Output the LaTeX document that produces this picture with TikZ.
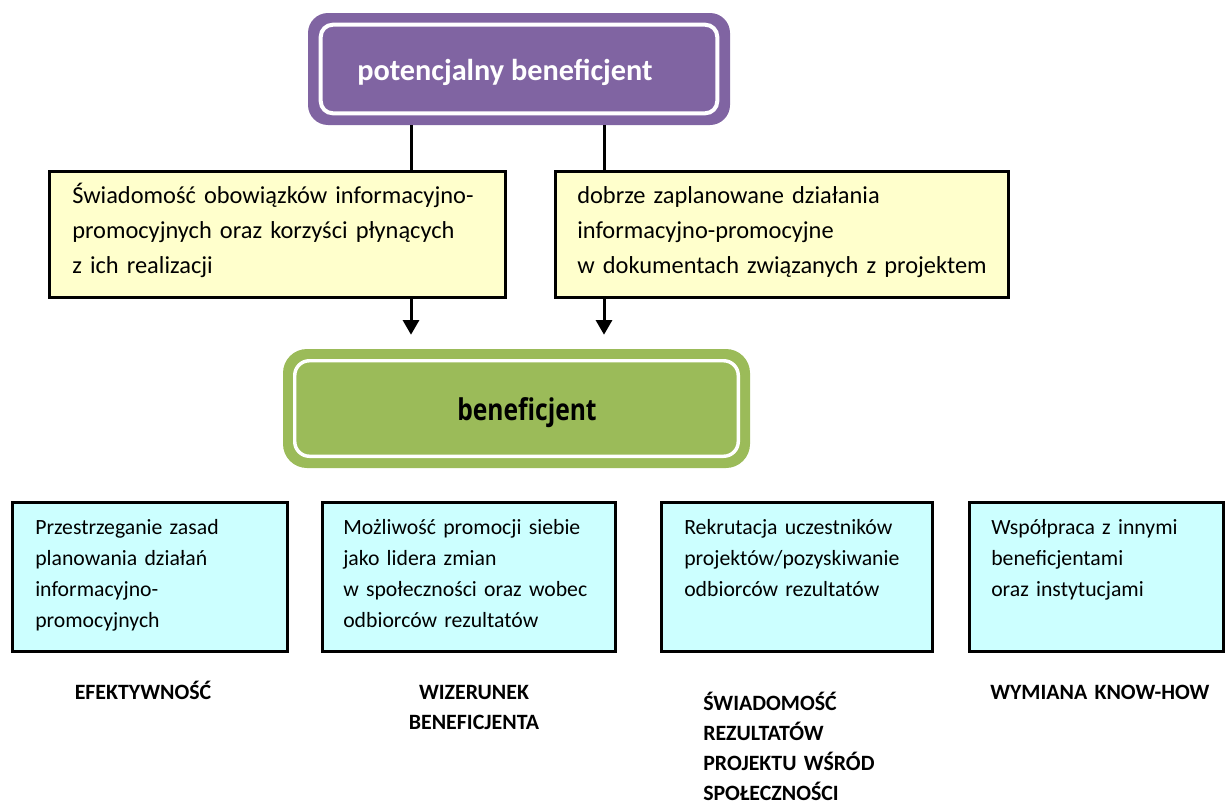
\documentclass[tikz,border=0pt]{standalone}
\usepackage{fontspec}
\setmainfont{Carlito}
\newfontfamily\condfont[FakeStretch=0.82]{Open Sans}
\usetikzlibrary{arrows.meta,calc,fit}
\definecolor{purp}{HTML}{8064A2}
\definecolor{grn}{HTML}{9BBB59}
\definecolor{yel}{HTML}{FFFFCC}
\definecolor{cyn}{HTML}{CCFFFF}
\begin{document}
\begin{tikzpicture}[x=0.75pt,y=-0.75pt,
  box/.style={draw=black,line width=2.25pt,inner sep=0pt},
  ybox/.style={box,fill=yel},
  cbox/.style={box,fill=cyn},
  btxt/.style={anchor=base west,inner sep=0pt,text width=340pt,align=left,font=\fontsize{18.3pt}{26.25pt}\selectfont},
  ctxt/.style={anchor=base west,inner sep=0pt,text width=220pt,align=left,font=\fontsize{16.3pt}{23.25pt}\selectfont},
  lbl/.style={anchor=base,inner sep=0pt,text width=200pt,align=center,font=\bfseries\fontsize{16.4pt}{22.5pt}\selectfont},
  lbll/.style={anchor=base west,inner sep=0pt,text width=200pt,align=left,font=\bfseries\fontsize{16.4pt}{22.5pt}\selectfont},
  conn/.style={line width=2.25pt},
  arr/.style={conn,-{Triangle[width=12pt,length=11pt]}},
  ]
\useasboundingbox (0,0) rectangle (1225,803);
% top box
\node[fit={(308,13)(730,125)},inner sep=0pt,fill=purp,rounded corners=15pt] (pot) {};
\draw[white,line width=3pt,rounded corners=9pt] ($(pot.north west)+(13,12)$) rectangle ($(pot.south east)+(-13,-12)$);
\node[text=white,font=\bfseries\fontsize{22.7pt}{26pt}\selectfont,anchor=base west,inner sep=0pt] (potl) at (357,80) {potencjalny beneficjent};
% yellow boxes
\node[ybox,fit={(49,171)(505,297)}] (y1) {};
\node[ybox,fit={(555,171)(1008,297)}] (y2) {};
\node[btxt] (y1t) at (72,203) {Świadomość obowiązków informacyjno-\\promocyjnych oraz korzyści płynących\\z ich realizacji};
\node[btxt] (y2t) at (577,203) {dobrze zaplanowane działania\\informacyjno-promocyjne\\w dokumentach związanych z projektem};
% green box
\node[fit={(283,349)(750,468)},inner sep=0pt,fill=grn,rounded corners=18pt] (ben) {};
\draw[white,line width=2.6pt,rounded corners=11pt] ($(ben.north west)+(12,12)$) rectangle ($(ben.south east)+(-12,-12)$);
\node[font=\condfont\bfseries\fontsize{22.5pt}{26pt}\selectfont,anchor=base west,inner sep=0pt] (benl) at (457,420) {beneficjent};
% connectors
\coordinate (c1) at (411,0);
\coordinate (c2) at (604,0);
\draw[conn] (pot.south -| c1) -- (y1.north -| c1);
\draw[conn] (pot.south -| c2) -- (y2.north -| c2);
\draw[arr,shorten >=10.5pt] (y1.south -| c1) -- (ben.north -| c1);
\draw[arr,shorten >=10.5pt] (y2.south -| c2) -- (ben.north -| c2);
% cyan boxes
\node[cbox,fit={(12,502)(287,651)}] (b1) {};
\node[cbox,fit={(322,502)(615,651)}] (b2) {};
\node[cbox,fit={(661,502)(932,651)}] (b3) {};
\node[cbox,fit={(969,502)(1223,651)}] (b4) {};
\node[ctxt] (b1t) at (35,534) {Przestrzeganie zasad\\planowania działań\\informacyjno-\\promocyjnych};
\node[ctxt] (b2t) at (343,534) {Możliwość promocji siebie\\jako lidera zmian\\w społeczności oraz wobec\\odbiorców rezultatów};
\node[ctxt] (b3t) at (684,534) {Rekrutacja uczestników\\projektów/pozyskiwanie\\odbiorców rezultatów};
\node[ctxt] (b4t) at (991,534) {Współpraca z innymi\\beneficjentami\\oraz instytucjami};
% labels
\node[lbl] (l1) at (143,699) {EFEKTYWNOŚĆ};
\node[lbl] (l2) at (474,699) {WIZERUNEK\\BENEFICJENTA};
\node[lbll] (l3) at (703,710) {ŚWIADOMOŚĆ\\REZULTATÓW\\PROJEKTU WŚRÓD\\SPOŁECZNOŚCI};
\node[lbll] (l4) at (990,699) {WYMIANA KNOW-HOW};
\end{tikzpicture}
\end{document}
